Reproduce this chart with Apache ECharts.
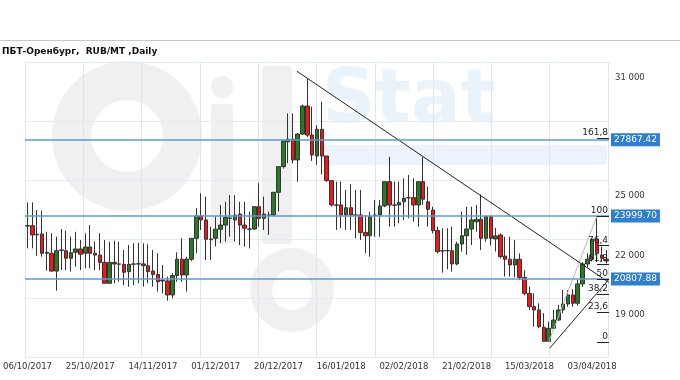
<!DOCTYPE html>
<html><head><meta charset="utf-8">
<script src="https://cdn.jsdelivr.net/npm/echarts@6/dist/echarts.min.js"></script>
<style>html,body{margin:0;padding:0;background:#fff}#c{width:680px;height:380px}</style>
</head><body><div id="c"></div>
<script>
const dates = ['06/10/2017','09/10/2017','10/10/2017','11/10/2017','12/10/2017','13/10/2017','16/10/2017','17/10/2017','18/10/2017','19/10/2017','20/10/2017','23/10/2017','24/10/2017','25/10/2017','26/10/2017','27/10/2017','30/10/2017','31/10/2017','01/11/2017','02/11/2017','03/11/2017','07/11/2017','08/11/2017','09/11/2017','10/11/2017','13/11/2017','14/11/2017','15/11/2017','16/11/2017','17/11/2017','20/11/2017','21/11/2017','22/11/2017','23/11/2017','24/11/2017','27/11/2017','28/11/2017','29/11/2017','30/11/2017','01/12/2017','04/12/2017','05/12/2017','06/12/2017','07/12/2017','08/12/2017','11/12/2017','12/12/2017','13/12/2017','14/12/2017','15/12/2017','18/12/2017','19/12/2017','20/12/2017','21/12/2017','22/12/2017','25/12/2017','26/12/2017','27/12/2017','28/12/2017','29/12/2017','09/01/2018','10/01/2018','11/01/2018','12/01/2018','15/01/2018','16/01/2018','17/01/2018','18/01/2018','19/01/2018','22/01/2018','23/01/2018','24/01/2018','25/01/2018','26/01/2018','29/01/2018','30/01/2018','31/01/2018','01/02/2018','02/02/2018','05/02/2018','06/02/2018','07/02/2018','08/02/2018','09/02/2018','12/02/2018','13/02/2018','14/02/2018','15/02/2018','16/02/2018','19/02/2018','20/02/2018','21/02/2018','22/02/2018','26/02/2018','27/02/2018','28/02/2018','01/03/2018','02/03/2018','05/03/2018','06/03/2018','07/03/2018','12/03/2018','13/03/2018','14/03/2018','15/03/2018','16/03/2018','19/03/2018','20/03/2018','21/03/2018','22/03/2018','23/03/2018','26/03/2018','27/03/2018','28/03/2018','29/03/2018','30/03/2018','02/04/2018','03/04/2018','04/04/2018','05/04/2018','06/04/2018'];

const openVals = [23490,23510,23040,23090,22110,22110,21210,22260,22240,21860,22160,22330,22110,22430,22110,22020,21650,20590,21650,21560,21550,21180,21560,21570,21570,21480,21210,21040,20740,20710,20000,20980,21810,21010,21810,22870,24000,23800,22800,22870,23330,23540,23880,23800,24100,23540,23330,23340,24470,23880,24040,24050,25200,26500,27760,27890,26840,28150,29570,28100,27040,28390,27040,25790,24550,24560,24050,24420,24040,24050,23170,23000,24030,24050,24510,25740,24550,24560,24720,24920,24930,24560,25740,24720,24300,23260,22230,22240,22240,21570,22580,23000,23340,23710,23830,22870,23970,22840,23040,21970,21810,21520,21810,20890,20080,19410,19240,18360,17650,18310,18730,19240,19540,20000,19580,20560,21570,21810,22820,22020,21810];
const closeVals = [23510,23040,23070,22110,22160,21210,22240,22280,21860,22140,22330,22060,22430,22110,22020,21650,20590,21650,21570,21570,21150,21550,21570,21580,21480,21180,21040,20670,20710,20000,20980,21810,21010,21810,22870,24000,23800,22820,22830,23330,23540,23930,23900,24050,23540,23380,23340,24470,23880,24100,24050,25200,26500,27800,27890,26840,28150,29570,28100,27090,28390,27040,25790,24560,24560,24050,24420,24050,24050,23170,23000,23970,24050,24510,25740,24560,24560,24680,24900,24930,24560,25740,24850,24340,23260,22190,22240,22250,21570,22580,23000,23340,23800,23830,22870,23970,22870,22990,21940,21810,21520,21810,20890,20080,19410,19240,18390,17650,18310,18730,19240,19540,20000,19580,20560,21570,21810,22820,22110,21860,21720];
const lowVals = [22360,22360,21970,21940,21230,21180,20220,21260,21260,21180,21430,21260,21350,21350,21260,21260,20590,20590,20590,20670,20500,20420,20500,20590,20420,20590,20420,20170,20080,19710,19830,20670,20670,20170,21720,22110,23290,21770,21770,22450,22620,22700,22950,22700,22530,22450,22360,23300,23460,23290,23040,23980,24220,26400,26670,26670,25740,28100,28000,26790,26600,26100,25740,24480,23290,23380,23290,23290,22870,22780,22110,21940,22950,22950,24450,23460,23460,23630,23800,23880,23710,23460,24560,23460,23120,22110,21130,21300,21180,21500,22190,22030,22530,23200,22280,22700,22500,22200,21850,20930,20930,20900,20750,19980,19240,18390,18310,17650,17616.06,18230,18700,19070,19400,19400,19450,20400,21400,21700,21670,21670,21600];
const highVals = [24690,24690,24300,24270,23200,23120,22950,23340,23260,22950,23200,22780,23120,23540,22700,23120,22780,22700,22750,22700,22280,22530,22620,22650,22620,22570,22280,22110,21520,20930,21100,22160,22870,21940,22870,24400,25150,24980,23460,23970,24560,24720,25060,25060,24720,24720,24220,24500,25660,24980,24220,25220,26500,27850,29200,29200,28200,29650,30980,29540,28600,29790,27040,25790,25740,25740,25320,25620,25320,25320,24050,24220,24810,24810,25740,27000,25740,25740,25910,26080,25910,25740,27000,25490,24470,23460,23380,23380,23460,22700,24220,24470,24470,24560,25100,24000,24000,23400,23120,22950,22950,22780,22100,21260,20420,20080,19580,19080,18650,19240,19500,20250,20250,20290,20760,21670,22110,22870,23999.70,22450,22280];

const yLabelValues = [19000, 22000, 25000, 31000];
const levelLines = [27867.42, 23999.70, 20807.88];
const fibLow = 17616.06, fibHigh = 23999.70;
const fibLowIndex = 108, fibHighIndex = 118;
const fibRatios = [0, 23.6, 38.2, 50, 61.8, 76.4, 100, 161.8];
const resistanceLine = [[55.8, 31340], [120.5, 20632]];
const supportLine = [[108.2, 17300], [120.5, 20800]];
const title = 'ПБТ-Оренбург,  RUB/MT ,Daily';

const FONT = 'DejaVu Sans';
const fmtThousands = v => String(v).replace(/\B(?=(\d{3})+(?!\d))/g, ' ');
const fmtRatio = r => String(r).replace('.', ',');
const lastX = dates.length - 0.5;
const WM_GRAY = '#f0f0f0', WM_BLUE = '#eaf2fa';

const chart = echarts.init(document.getElementById('c'), null, {renderer: 'canvas'});
chart.setOption({
  animation: false,
  backgroundColor: '#fff',
  title: {text: title, left: 2, top: 47, padding: 0, textStyle: {fontFamily: FONT, fontSize: 9, fontWeight: 'bold', color: '#111'}},
  graphic: [
    {type: 'line', z: -1, shape: {x1: 0, y1: 40.5, x2: 680, y2: 40.5}, style: {stroke: '#c8c8c8', lineWidth: 1}},
    {type: 'ring', z: -1, silent: true, shape: {cx: 127, cy: 136, r: 75, r0: 36}, style: {fill: WM_GRAY}},
    {type: 'circle', z: -1, silent: true, shape: {cx: 222, cy: 87, r: 11}, style: {fill: WM_GRAY}},
    {type: 'rect', z: -1, silent: true, shape: {x: 211, y: 104, width: 22, height: 140, r: 3}, style: {fill: WM_GRAY}},
    {type: 'rect', z: -1, silent: true, shape: {x: 262, y: 66, width: 30, height: 178, r: 4}, style: {fill: WM_GRAY}},
    {type: 'ring', z: -1, silent: true, shape: {cx: 292, cy: 290, r: 42, r0: 20}, style: {fill: WM_GRAY}},
    {type: 'text', z: -1, silent: true, left: 322, top: 66, style: {text: 'Stat', fontFamily: FONT, fontSize: 74, fontWeight: 'bold', fill: WM_BLUE}},
    {type: 'rect', z: -1, silent: true, shape: {x: 322, y: 145, width: 285, height: 20, r: 4}, style: {fill: '#edf3fa'}}
  ],
  grid: [
    {left: 24, right: 71, top: 58.1, bottom: 6.1},
    {left: 25, right: 72, top: 62, bottom: 23}
  ],
  xAxis: [
    {type: 'category', gridIndex: 0, data: dates, boundaryGap: true, offset: -17,
     axisLine: {show: false}, axisTick: {show: false}, splitLine: {show: false},
     axisLabel: {interval: 12, margin: 5, fontFamily: FONT, fontSize: 8.5, color: '#333'}},
    {type: 'value', gridIndex: 0, min: -0.5, max: lastX, show: false},
    {type: 'value', gridIndex: 1, min: 0, max: 10, interval: 1,
     axisLine: {show: false}, axisTick: {show: false}, axisLabel: {show: false},
     splitLine: {show: true, lineStyle: {color: '#dce7f4', width: 1}}}
  ],
  yAxis: [
    {type: 'value', gridIndex: 0, position: 'right', min: 16000, max: 32000, interval: 3000,
     axisLine: {show: false}, axisTick: {show: false}, splitLine: {show: false},
     axisLabel: {showMinLabel: false, showMaxLabel: false, margin: 6, fontFamily: FONT, fontSize: 8.5, color: '#333',
       formatter: v => yLabelValues.includes(v) ? fmtThousands(v) : ''}},
    {type: 'value', gridIndex: 1, min: 0, max: 5, interval: 1,
     axisLine: {show: false}, axisTick: {show: false}, axisLabel: {show: false},
     splitLine: {show: true, lineStyle: {color: '#e2ebf6', width: 1}}}
  ],
  series: [
    {type: 'scatter', xAxisIndex: 2, yAxisIndex: 1, data: [], silent: true},
    {type: 'candlestick', xAxisIndex: 0, yAxisIndex: 0, barWidth: 4,
     data: dates.map((d, i) => [openVals[i], closeVals[i], lowVals[i], highVals[i]]),
     itemStyle: {color: '#2a7a22', color0: '#f51414', borderColor: '#333', borderColor0: '#333', borderColorDoji: '#222', borderWidth: 1},
     markLine: {symbol: 'none', silent: true, animation: false,
       lineStyle: {color: '#5b9bd5', width: 1.5, type: 'solid'},
       label: {position: 'end', distance: 2, formatter: p => Number(p.value).toFixed(2),
         backgroundColor: '#2f7fd0', color: '#fff', padding: [2, 3, 2, 3], fontFamily: FONT, fontSize: 9},
       data: levelLines.map(v => ({yAxis: v}))}
    },
    {type: 'line', xAxisIndex: 1, yAxisIndex: 0, data: [[fibLowIndex, fibLow], [fibHighIndex, fibHigh]],
     symbol: 'none', silent: true, lineStyle: {color: '#b8b8b8', width: 1},
     markLine: {symbol: 'none', silent: true, animation: false,
       lineStyle: {color: '#222', width: 1, type: 'solid'},
       label: {position: 'insideEndTop', distance: 1, formatter: p => p.name, fontFamily: FONT, fontSize: 9, color: '#222'},
       data: fibRatios.map(r => {
         const lv = fibLow + (fibHigh - fibLow) * r / 100;
         return [{coord: [fibHighIndex, lv], name: fmtRatio(r)}, {coord: [lastX, lv]}];
       })}
    },
    {type: 'line', xAxisIndex: 1, yAxisIndex: 0, data: resistanceLine, symbol: 'none', silent: true, lineStyle: {color: '#222', width: 1}},
    {type: 'line', xAxisIndex: 1, yAxisIndex: 0, data: supportLine, symbol: 'none', silent: true, lineStyle: {color: '#222', width: 1}}
  ]
});
</script></body></html>
